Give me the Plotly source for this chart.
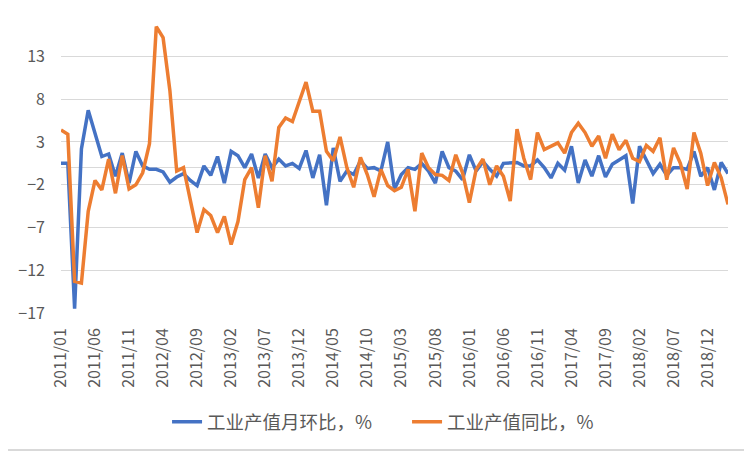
import pandas as pd
import plotly.graph_objects as go

# Monate 2011/01 bis 2019/03
monate = pd.date_range(start="2011-01-01", periods=99, freq="MS").strftime("%Y/%m").tolist()

# 工业产值月环比, %
mom = [0.5, 0.5, -16.5, 2.2, 6.7, 3.9, 1.3, 1.6, -1.0, 1.7,
       -1.8, 1.9, 0.2, -0.2, -0.2, -0.5, -1.7, -1.1, -0.7, -1.5,
       -2.1, 0.2, -0.9, 1.3, -1.8, 1.9, 1.4, 0.0, 1.6, -1.2,
       1.6, 0.0, 1.0, 0.2, 0.5, -0.1, 2.0, -1.2, 1.5, -4.4,
       2.3, -1.6, -0.4, -0.8, 0.8, -0.1, 0.0, -0.4, 3.0, -2.5,
       -0.8, 0.0, -0.2, 0.5, -0.4, -1.8, 1.9, 0.0, -0.4, -1.4,
       1.5, -0.4, 0.7, -0.2, -1.0, 0.5, 0.5, 0.6, 0.2, 0.2,
       0.9, 0.0, -1.2, 0.5, -0.3, 2.5, -1.8, 0.9, -1.0, 1.4,
       -1.1, 0.4, 0.9, 1.4, -4.2, 2.5, 0.9, -0.7, 0.4, -0.9,
       0.0, 0.0, -0.2, 1.9, -1.0, 0.0, -2.6, 0.6, -0.7]

# 工业产值同比, %
yoy = [4.4, 3.9, -13.3, -13.5, -5.1, -1.5, -2.6, 1.0, -3.0, 1.4,
       -2.5, -2.0, -0.6, 2.8, 16.5, 15.2, 9.0, -0.4, 0.0, -3.6,
       -7.6, -4.9, -5.6, -7.6, -5.7, -9.0, -6.3, -1.4, 0.0, -4.7,
       1.4, -1.6, 4.7, 5.8, 5.4, 7.7, 10.0, 6.6, 6.6, 1.9,
       0.8, 3.6, 0.0, -2.3, 1.2, -0.8, -3.4, -0.2, -2.1, -2.7,
       -2.3, -0.2, -5.1, 1.7, 0.0, -0.8, -0.9, -1.5, 1.5, -0.6,
       -4.1, -0.2, 1.0, -2.0, 0.2, -1.0, -3.9, 4.5, 1.1, -1.4,
       4.1, 2.1, 2.5, 2.9, 1.7, 4.1, 5.2, 4.1, 2.5, 3.7,
       1.1, 3.9, 2.1, 3.2, 1.1, 0.7, 2.6, 1.9, 3.5, -1.4,
       2.3, 0.5, -2.5, 4.1, 1.7, -2.1, 0.6, -1.2, -4.3]

y_ticks = [-17, -12, -7, -2, 3, 8, 13]
x_ticks = monate[::5]

fig = go.Figure()
fig.add_trace(go.Scatter(x=monate, y=mom, mode="lines", name="工业产值月环比，%",
                         line=dict(color="#4472C4", width=3.5)))
fig.add_trace(go.Scatter(x=monate, y=yoy, mode="lines", name="工业产值同比，%",
                         line=dict(color="#ED7D31", width=3.5)))

fig.update_xaxes(type="category", tickvals=x_ticks, ticktext=x_ticks, tickangle=-90,
                 showgrid=False, showline=False, ticks="",
                 tickfont=dict(size=16, color="#595959"), ticklabelstandoff=11)
fig.update_yaxes(range=[-17, 17.5], tickvals=y_ticks, showgrid=True, gridcolor="#d9d9d9",
                 gridwidth=1, zeroline=True, zerolinecolor="#d9d9d9", zerolinewidth=1,
                 tickfont=dict(size=16, color="#595959"), ticklabelstandoff=15)

# Seite hat 8px Body-Rand -> Figur um 8px kleiner
fig.update_layout(
    width=744, height=444,
    margin=dict(l=48, r=24, t=10, b=139),
    plot_bgcolor="white", paper_bgcolor="white",
    font=dict(family="Noto Sans CJK SC, Noto Sans", color="#595959"),
    showlegend=True,
    legend=dict(orientation="h", x=0.159, xanchor="left", y=-0.37, yanchor="middle",
                font=dict(size=18.5, color="#595959"), entrywidth=195, entrywidthmode="pixels"),
    shapes=[
        dict(type="line", xref="paper", yref="paper", x0=1.03, x1=1.03, y0=-0.464, y1=1.034,
             line=dict(color="#d9d9d9", width=2)),
        dict(type="line", xref="paper", yref="paper", x0=-0.08, x1=1.03, y0=-0.464, y1=-0.464,
             line=dict(color="#d9d9d9", width=2)),
    ],
)

fig.write_html("out.html")
